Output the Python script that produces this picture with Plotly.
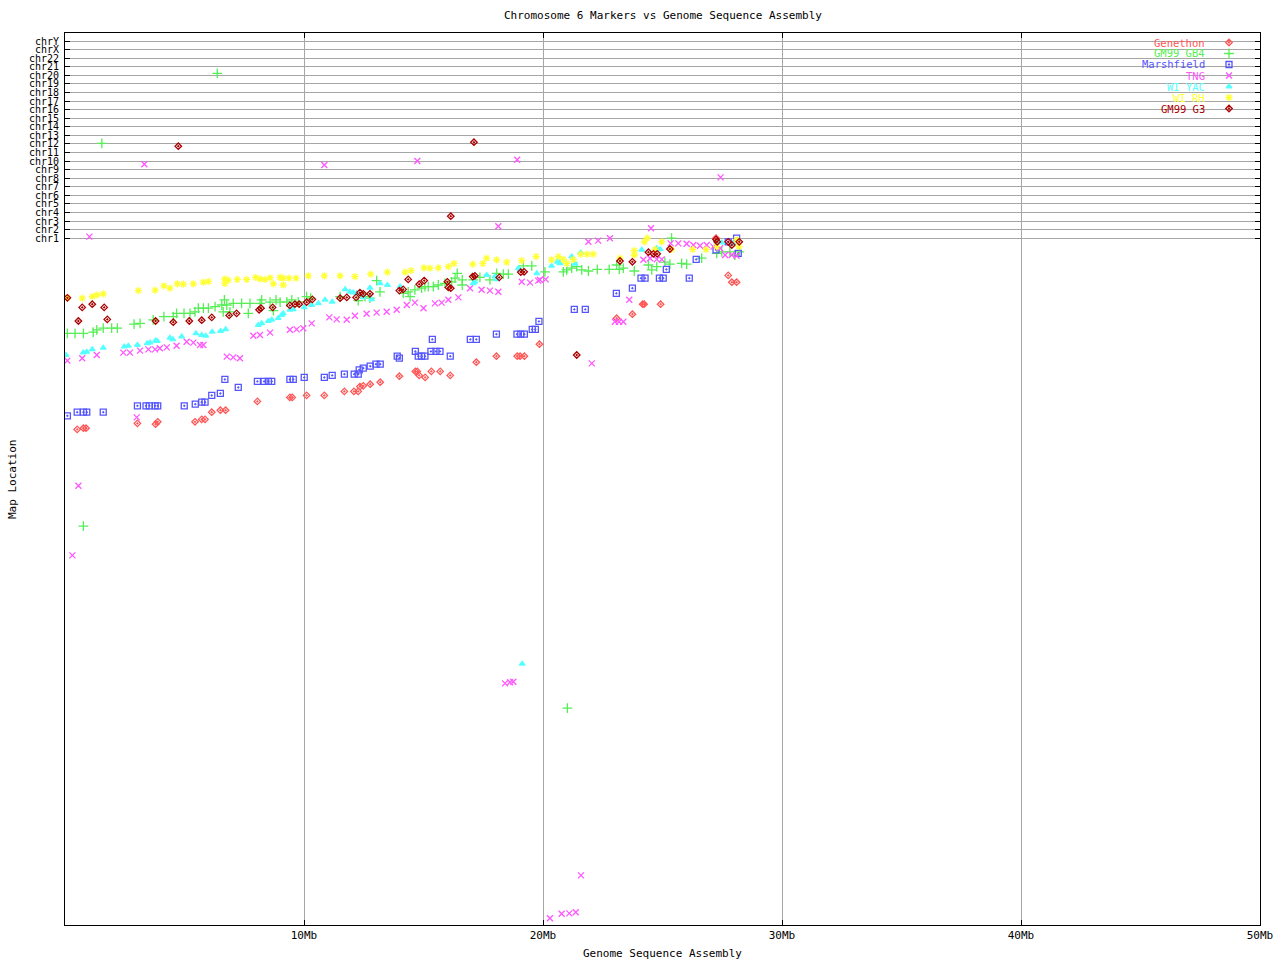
import plotly.graph_objects as go

# ---------------- axis labels ----------------
chrom_labels = ["chr1", "chr2", "chr3", "chr4", "chr5", "chr6", "chr7", "chr8", "chr9",
                "chr10", "chr11", "chr12", "chr13", "chr14", "chr15", "chr16", "chr17",
                "chr18", "chr19", "chr20", "chr21", "chr22", "chrX", "chrY"]
chr1_loc = 171.7      # map location of the chr1 band line
chr_step = 2.143      # spacing between chromosome band lines

x_tick_vals = [10, 20, 30, 40, 50]
x_tick_labels = ["10Mb", "20Mb", "30Mb", "40Mb", "50Mb"]

series_names = ["Genethon", "GM99 GB4", "Marshfield", "TNG", "WI YAC", "WI RH", "GM99 G3"]
series_colors = ["#ff5555", "#55ee55", "#5555ff", "#ff55ff", "#55ffff", "#ffff33", "#aa0000"]
series_symbols = ["diamond-open-dot", "cross-thin-open", "square-open-dot", "x-thin-open",
                  "triangle-up", "asterisk-open", "diamond-open-dot"]
series_sizes = [5, 7, 6, 6, 5, 6, 5]

# ---------------- data (Mb, map location) ----------------
genethon_mb = [0.51, 0.77, 0.88, 3.03, 3.79, 3.88, 5.44, 5.72, 5.86, 6.14, 6.50, 6.72, 8.05, 9.41,
               9.51, 10.11, 10.85, 11.69, 12.09, 12.27, 12.34, 12.48, 12.77, 13.19, 13.99, 14.66,
               14.74, 14.82, 15.07, 15.33, 15.70, 16.12, 17.21, 18.05, 18.92, 19.04, 19.22, 19.85,
               23.08, 23.74, 24.17, 24.23, 24.92, 27.75, 27.90, 28.10, 27.24]
genethon_map = [123.9, 124.2, 124.2, 125.4, 125.2, 125.8, 125.8, 126.4, 126.4, 128.2, 128.7, 128.7,
                130.9, 131.9, 131.9, 132.4, 132.4, 133.4, 133.4, 133.4, 134.6, 134.8, 135.2, 135.7,
                137.2, 138.4, 138.4, 137.4, 136.9, 138.4, 138.4, 137.4, 140.7, 142.2, 142.2, 142.2,
                142.2, 145.2, 151.7, 152.7, 155.2, 155.2, 155.2, 162.4, 160.7, 160.7, 171.7]

gb4_mb = [0.10, 0.42, 0.77, 1.18, 1.33, 1.60, 1.95, 2.19, 2.89, 3.14, 3.69, 4.14, 4.53, 4.67, 4.98,
          5.23, 5.44, 5.58, 5.79, 6.00, 6.28, 6.56, 6.67, 6.77, 7.04, 7.39, 7.74, 8.16, 8.23, 6.62,
          6.90, 7.67, 8.58, 8.72, 8.83, 9.00, 9.28, 9.49, 9.76, 10.11, 10.28, 11.51, 12.27, 12.55,
          12.76, 13.04, 13.18, 14.15, 14.36, 14.44, 14.64, 14.92, 15.06, 15.20, 15.41, 15.62, 15.90,
          16.18, 16.32, 16.41, 16.62, 16.62, 17.08, 17.36, 17.78, 18.06, 18.34, 18.55, 19.18, 19.53,
          20.08, 20.85, 20.99, 21.20, 21.41, 21.62, 21.90, 22.27, 22.77, 23.08, 23.19, 23.36, 23.82,
          24.41, 24.55, 24.76, 25.10, 25.31, 25.38, 25.80, 26.01, 26.64, 27.27, 27.48, 27.82, 28.03,
          28.21, 0.77, 21.02, 6.37, 1.54]
gb4_map = [147.9, 147.9, 147.9, 148.2, 148.8, 149.2, 149.2, 149.2, 150.2, 150.4, 151.3, 152.1, 152.1,
           152.9, 152.9, 152.9, 153.3, 154.2, 154.2, 154.2, 154.6, 155.0, 156.3, 155.0, 155.4, 155.4,
           155.4, 155.4, 156.3, 153.3, 153.3, 152.9, 155.7, 153.6, 156.3, 155.7, 155.8, 156.3, 155.8,
           157.1, 156.7, 157.1, 156.1, 157.1, 156.7, 161.1, 158.3, 157.9, 158.3, 157.1, 158.8, 159.2,
           159.6, 159.6, 159.6, 160.0, 160.4, 160.8, 161.7, 162.9, 161.3, 160.0, 161.3, 161.9, 161.3,
           162.9, 162.7, 162.7, 164.8, 164.8, 163.3, 163.3, 163.8, 164.2, 164.6, 163.8, 163.5, 163.9,
           163.9, 165.0, 163.9, 164.2, 163.5, 165.0, 163.8, 164.6, 165.7, 165.2, 171.7, 165.4, 165.2,
           166.7, 167.9, 168.3, 168.3, 167.5, 168.3, 99.7, 54.2, 212.9, 195.4]

marsh_mb = [0.10, 0.51, 0.77, 0.91, 1.60, 3.03, 3.39, 3.53, 3.77, 3.88, 4.99, 5.45, 5.72, 5.86, 6.14,
            6.50, 6.69, 7.25, 8.05, 8.33, 8.51, 8.65, 9.41, 9.55, 10.01, 10.85, 11.18, 11.69, 12.10,
            12.27, 12.31, 12.48, 12.77, 13.01, 13.19, 13.90, 13.99, 14.66, 14.78, 14.92, 15.06, 15.37,
            15.31, 15.52, 15.69, 16.12, 16.96, 17.21, 18.05, 18.91, 19.07, 19.22, 19.55, 19.68, 19.83,
            21.31, 21.77, 23.07, 23.74, 24.10, 24.27, 24.87, 25.03, 25.16, 26.12, 26.41, 27.24, 27.75,
            28.10, 28.17]
marsh_map = [127.3, 128.2, 128.2, 128.2, 128.2, 129.8, 129.8, 129.8, 129.8, 129.8, 129.8, 130.2, 130.7,
             130.7, 132.4, 132.9, 136.4, 134.4, 135.9, 135.9, 135.9, 135.9, 136.4, 136.4, 136.9, 136.9,
             137.4, 137.7, 137.7, 137.7, 138.8, 139.2, 139.7, 140.2, 140.2, 142.2, 141.7, 143.4, 142.2,
             142.2, 142.2, 146.4, 143.4, 143.4, 143.4, 142.2, 146.4, 146.4, 147.7, 147.7, 147.7, 147.7,
             148.9, 148.9, 150.9, 153.9, 153.9, 157.9, 159.2, 161.7, 161.7, 161.7, 161.7, 163.9, 161.7,
             166.4, 168.8, 170.8, 171.7, 167.9]

tng_mb = [0.10, 0.72, 1.33, 2.44, 2.72, 3.14, 3.49, 3.77, 3.97, 4.26, 4.67, 5.09, 5.37, 5.65, 5.79,
          3.00, 6.77, 7.04, 7.32, 7.88, 8.16, 8.58, 9.41, 9.69, 9.97, 10.32, 11.06, 11.37, 11.79,
          12.13, 12.62, 13.04, 13.46, 13.88, 14.30, 14.64, 15.00, 15.48, 15.76, 16.04, 16.46, 16.95,
          17.43, 17.78, 18.13, 19.11, 19.46, 19.80, 20.11, 19.87, 22.04, 21.90, 22.31, 22.80, 23.61,
          23.01, 23.18, 23.36, 24.20, 24.48, 24.76, 24.97, 25.34, 25.66, 26.01, 26.29, 26.57, 26.85,
          27.13, 27.41, 27.62, 27.90, 28.10,
          0.56, 0.31, 18.41, 18.62, 18.76, 21.59, 20.29, 20.78, 21.10, 21.37,
          1.02, 3.32, 10.85, 14.74, 18.92, 27.43, 18.13, 24.52]
tng_map = [141.1, 141.7, 142.5, 143.1, 143.1, 143.6, 143.9, 143.9, 144.2, 144.4, 144.8, 145.8, 145.6,
           145.0, 145.0, 126.9, 142.1, 141.9, 141.7, 147.3, 147.5, 148.1, 148.8, 148.9, 149.2, 150.4,
           151.9, 151.4, 151.3, 152.3, 152.8, 153.1, 153.3, 153.8, 155.0, 155.6, 154.2, 155.4, 155.6,
           156.3, 156.9, 159.2, 158.8, 158.6, 158.3, 160.8, 160.6, 161.1, 161.4, 161.3, 140.4, 170.8,
           171.1, 171.7, 156.3, 150.8, 150.8, 150.8, 166.3, 166.7, 166.4, 166.4, 170.4, 170.4, 170.3,
           170.0, 169.8, 170.0, 169.6, 169.2, 167.5, 167.5, 167.3,
           109.8, 92.4, 60.4, 60.7, 60.8, 12.4, 1.7, 2.8, 2.9, 3.2,
           172.1, 190.2, 190.0, 191.0, 191.3, 186.9, 174.7, 174.2]

yac_mb = [0.04, 0.77, 0.91, 1.14, 1.60, 2.48, 2.65, 3.03, 3.44, 3.56, 3.79, 3.86, 4.39, 4.51, 4.88,
          5.48, 5.72, 5.89, 6.16, 6.51, 6.72, 8.09, 8.23, 8.51, 8.65, 8.92, 9.07, 9.13, 9.41, 9.55,
          10.01, 10.32, 10.60, 10.88, 11.18, 11.72, 11.92, 12.06, 12.20, 12.48, 12.83, 12.76, 13.18,
          13.49, 14.02, 17.08, 17.15, 17.64, 17.99, 18.06, 18.97, 19.04, 19.74, 20.36, 20.60, 20.71,
          20.64, 21.20, 21.34, 21.58, 24.13, 24.76, 24.90, 27.27, 27.48, 27.94, 19.13]
yac_map = [142.5, 143.1, 143.3, 143.9, 144.3, 144.6, 144.8, 145.0, 145.4, 145.6, 146.1, 146.0, 146.8,
           146.4, 147.1, 147.9, 147.5, 147.3, 148.3, 148.5, 148.9, 150.0, 150.4, 151.0, 151.3, 151.7,
           152.5, 152.9, 153.8, 153.9, 154.4, 155.0, 155.4, 156.3, 155.8, 158.9, 158.3, 158.1, 157.9,
           156.9, 156.4, 159.3, 160.4, 160.0, 159.6, 160.4, 160.8, 162.5, 162.1, 161.4, 164.2, 163.8,
           162.9, 164.8, 165.8, 165.4, 166.0, 167.1, 165.3, 168.1, 168.8, 169.2, 168.9, 170.8, 170.6,
           170.4, 65.3]

rh_mb = [0.10, 0.72, 1.14, 1.33, 1.60, 3.07, 3.77, 4.14, 4.39, 4.70, 4.95, 5.37, 5.79, 6.00, 6.69,
         6.83, 6.69, 7.21, 7.60, 7.98, 8.16, 8.37, 8.58, 8.72, 9.00, 9.13, 9.13, 9.38, 9.67, 10.18,
         10.85, 11.51, 12.13, 12.79, 13.49, 14.23, 14.48, 15.02, 15.27, 15.62, 16.04, 16.28, 17.06,
         17.48, 17.64, 18.06, 18.48, 19.11, 19.71, 20.36, 20.64, 20.85, 20.99, 21.27, 21.58, 21.85,
         22.10, 23.22, 23.82, 23.82, 24.24, 24.36, 24.69, 24.97, 25.38, 26.26, 26.82, 27.27, 28.20,
         28.10]
rh_map = [156.8, 156.7, 157.1, 157.5, 157.8, 158.6, 158.7, 159.8, 159.2, 160.3, 160.2, 160.3, 160.7,
          160.9, 161.5, 161.2, 160.4, 161.4, 161.4, 161.9, 161.5, 161.4, 161.8, 160.3, 161.9, 161.7,
          160.0, 161.7, 161.7, 162.3, 162.3, 162.3, 162.1, 162.7, 163.2, 163.2, 163.6, 164.3, 164.2,
          164.3, 164.6, 165.4, 165.2, 165.4, 166.7, 166.3, 165.7, 166.1, 167.1, 166.3, 167.1, 166.4,
          165.4, 166.4, 167.7, 167.7, 167.7, 166.7, 168.6, 167.5, 170.8, 171.7, 168.9, 170.8, 168.9,
          168.9, 168.9, 169.6, 169.6, 171.3]

g3_mb = [0.10, 0.72, 1.14, 1.64, 0.56, 1.77, 3.79, 4.53, 5.20, 5.72, 6.14, 6.87, 7.18, 8.12, 8.20,
         8.69, 9.41, 9.62, 9.80, 10.11, 10.35, 11.51, 11.79, 12.18, 12.34, 12.48, 12.76, 13.99, 14.15,
         14.36, 14.82, 15.03, 16.00, 16.04, 16.14, 17.06, 17.15, 18.17, 19.07, 19.21, 21.41, 23.22,
         23.74, 24.41, 24.62, 24.78, 25.31, 27.24, 27.29, 27.75, 27.90, 28.21,
         4.74, 17.11, 16.14]
g3_map = [156.8, 154.4, 155.2, 154.4, 151.0, 151.4, 151.0, 150.7, 151.0, 151.2, 151.9, 152.4, 152.9,
          153.8, 154.2, 154.4, 154.9, 155.2, 155.2, 155.7, 156.4, 156.7, 156.9, 156.9, 158.1, 157.8,
          157.8, 158.6, 158.9, 161.4, 160.2, 161.1, 160.8, 159.4, 159.2, 162.1, 162.3, 161.9, 163.2,
          163.3, 142.5, 166.0, 165.8, 168.2, 167.8, 167.8, 169.0, 171.4, 170.8, 170.8, 170.0, 170.8,
          194.7, 195.7, 177.2]

series_x = [genethon_mb, gb4_mb, marsh_mb, tng_mb, yac_mb, rh_mb, g3_mb]
series_y = [genethon_map, gb4_map, marsh_map, tng_map, yac_map, rh_map, g3_map]

# ---------------- figure ----------------
FONT = "DejaVu Sans Mono"
W, H = 1280, 960
ML, MR, MT, MB = 65, 20, 33, 35
PW, PH = W - ML - MR, H - MT - MB
MARKER_LW = 1.3

def px_to_paper_y(py):
    return (H - MB - py) / PH

def px_to_paper_x(px):
    return (px - ML) / PW

fig = go.Figure()
for name, xs, ys, col, sym, sz in zip(series_names, series_x, series_y, series_colors,
                                       series_symbols, series_sizes):
    fig.add_trace(go.Scatter(
        x=xs, y=ys, mode="markers", name=name,
        marker=dict(symbol=sym, size=sz, color=col, line=dict(color=col, width=MARKER_LW)),
    ))

# legend symbols (drawn on an invisible overlay axis, to the right of the names)
for i, (name, col, sym, sz) in enumerate(zip(series_names, series_colors, series_symbols, series_sizes)):
    row_py = 42.5 + 11 * i
    fig.add_trace(go.Scatter(
        x=[px_to_paper_x(1229)], y=[px_to_paper_y(row_py)], xaxis="x2", yaxis="y2",
        mode="markers", showlegend=False, hoverinfo="skip",
        marker=dict(symbol=sym, size=sz, color=col, line=dict(color=col, width=MARKER_LW)),
    ))
    fig.add_annotation(
        text=name, xref="paper", yref="paper", x=px_to_paper_x(1207), y=px_to_paper_y(row_py),
        xanchor="right", yanchor="middle", showarrow=False,
        font=dict(family=FONT, size=10.5, color=col),
    )

chr_vals = [chr1_loc + i * chr_step for i in range(len(chrom_labels))]

axis_common = dict(
    ticks="inside", ticklen=5, tickcolor="black", tickwidth=1,
    showline=True, linecolor="black", linewidth=1, mirror="ticks",
    showgrid=True, gridcolor="#a6a6a6", gridwidth=1, zeroline=False,
    automargin=False,
)

fig.update_layout(
    width=W, height=H,
    margin=dict(l=ML, r=MR, t=MT, b=MB),
    plot_bgcolor="white", paper_bgcolor="white",
    showlegend=False,
    font=dict(family=FONT, size=11, color="black"),
    xaxis=dict(range=[0, 50], tickmode="array", tickvals=x_tick_vals, ticktext=x_tick_labels,
               tickfont=dict(family=FONT, size=11, color="black"), **axis_common),
    yaxis=dict(range=[0, 223], tickmode="array", tickvals=chr_vals, ticktext=chrom_labels,
               tickfont=dict(family=FONT, size=10, color="black"),
               ticklabelstandoff=3, **axis_common),
    xaxis2=dict(range=[0, 1], overlaying="x", visible=False),
    yaxis2=dict(range=[0, 1], overlaying="y", visible=False),
    shapes=[dict(type="rect", xref="paper", yref="paper", layer="between",
                 x0=px_to_paper_x(1137), x1=px_to_paper_x(1253),
                 y0=px_to_paper_y(114), y1=px_to_paper_y(35),
                 fillcolor="white", line=dict(width=0))],
)

fig.add_annotation(text="Chromosome 6 Markers vs Genome Sequence Assembly", xref="paper", yref="paper",
                   x=0.5, y=px_to_paper_y(15), xanchor="center", yanchor="middle", showarrow=False,
                   font=dict(family=FONT, size=11, color="black"))
fig.add_annotation(text="Genome Sequence Assembly", xref="paper", yref="paper",
                   x=0.5, y=px_to_paper_y(953), xanchor="center", yanchor="middle", showarrow=False,
                   font=dict(family=FONT, size=11, color="black"))
fig.add_annotation(text="Map Location", xref="paper", yref="paper", textangle=-90,
                   x=px_to_paper_x(12), y=0.5, xanchor="center", yanchor="middle", showarrow=False,
                   font=dict(family=FONT, size=11, color="black"))

fig.write_html("out.html", config={"displayModeBar": False},
               post_script="document.body.style.margin='0';")
